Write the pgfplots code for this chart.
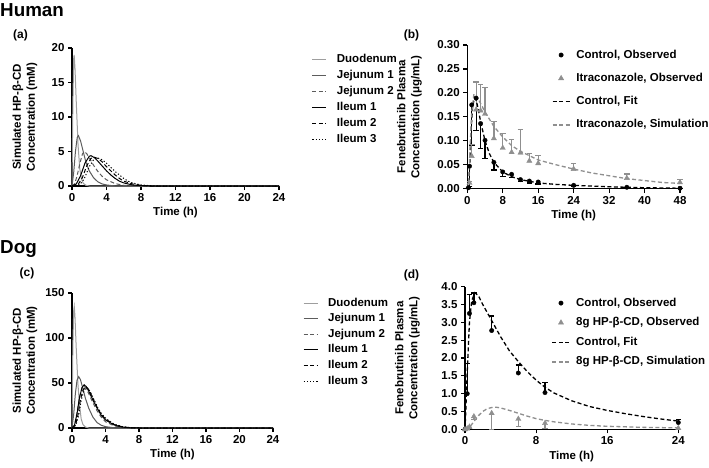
\documentclass[border=0pt]{standalone}
\usepackage{fontspec}
\setmainfont{Liberation Sans}
\usepackage{pgfplots}
\pgfplotsset{compat=1.18}

\definecolor{lg}{gray}{0.62}
\definecolor{dg}{gray}{0.36}
\definecolor{mg}{gray}{0.56}

\newcommand{\fs}{\fontsize{11.5}{14}\selectfont\bfseries}

\pgfplotsset{
  pk/.style={
    scale only axis,
    axis x line*=bottom, axis y line*=left,
    axis line style={line width=1.1pt},
    tick style={line width=1.1pt, black},
    tick align=outside,
    major tick length=4pt,
    minor tick num=0,
    font=\fs,
    tick label style={font=\fs},
    label style={font=\fs, align=center},
    /pgf/number format/assume math mode=true,
    clip=false,
    legend cell align=left,
    legend style={draw=none, fill=none, inner sep=0pt, font=\fs,
      nodes={inner sep=0pt, text height=8.5pt, text depth=2.5pt},
      /tikz/every odd column/.append style={column sep=10pt}},
  },
  dsh/.style={dash pattern=on 4pt off 2.5pt},
  dtt/.style={dash pattern=on 1.2pt off 2pt},
}

\begin{document}
\begin{tikzpicture}
\path[use as bounding box] (0pt,0pt) rectangle (709pt,467pt);

\node[anchor=base west, font=\fontsize{18.8}{20}\selectfont\bfseries, inner sep=0pt] at (0pt,450.3pt) {Human};
\node[anchor=base west, font=\fontsize{18.8}{20}\selectfont\bfseries, inner sep=0pt] at (0pt,214pt) {Dog};
\node[font=\fontsize{12}{14}\selectfont\bfseries] at (20.5pt,432pt) {(a)};
\node[font=\fontsize{12}{14}\selectfont\bfseries] at (411.5pt,432pt) {(b)};
\node[font=\fontsize{12}{14}\selectfont\bfseries] at (27pt,194pt) {(c)};
\node[font=\fontsize{12}{14}\selectfont\bfseries] at (411.5pt,192pt) {(d)};

% ---------------- (a) ----------------
\begin{axis}[pk, at={(72pt,281pt)}, anchor=south west, width=207pt, height=138pt,
  xmin=0, xmax=24, ymin=0, ymax=20,
  xtick={0,4,8,12,16,20,24}, ytick={0,5,10,15,20},
  xlabel={Time (h)}, ylabel={Simulated HP-β-CD\\Concentration (mM)},
  xlabel style={at={(axis description cs:0.5,-0.19)}, anchor=center},
  ylabel style={at={(axis description cs:-0.227,0.5)}, anchor=center},
  legend style={at={(axis description cs:1.158,0.955)}, anchor=north west,
    /tikz/every even row/.append style={row sep=5pt},
    /tikz/every odd row/.append style={row sep=5pt}},
  legend image code/.code={\draw[#1] (0pt,0pt) -- (14pt,0pt);},
]
\addplot[lg, line width=1pt] coordinates {(0,0)(0.1,12)(0.2,18.5)(0.25,19)(0.35,17)(0.5,12)(0.7,6)(0.9,2.5)(1.1,1)(1.3,0.4)(1.6,0.1)(2,0)(24,0)};
\addlegendentry{Duodenum}
\addplot[dg, line width=1pt] coordinates {(0,0)(0.2,2)(0.4,5)(0.6,7)(0.75,7.3)(1,6.5)(1.3,5)(1.6,3.5)(2,2.2)(2.5,1.2)(3,0.6)(3.5,0.3)(4,0.15)(5,0)(24,0)};
\addlegendentry{Jejunum 1}
\addplot[dg, line width=1pt, dsh] coordinates {(0,0)(0.3,0.3)(0.6,1.5)(0.9,3.2)(1.2,4.6)(1.4,5)(1.7,4.7)(2,4.1)(2.5,3)(3,2.1)(3.5,1.4)(4,0.9)(5,0.35)(6,0.1)(7,0)(24,0)};
\addlegendentry{Jejunum 2}
\addplot[black, line width=1pt] coordinates {(0,0)(0.5,0.3)(1,1.5)(1.5,3.3)(2,4.3)(2.2,4.4)(2.6,4.1)(3,3.6)(3.5,2.9)(4,2.2)(4.5,1.6)(5,1.1)(5.5,0.7)(6,0.45)(7,0.15)(8,0.05)(9,0)(24,0)};
\addlegendentry{Ileum 1}
\addplot[black, line width=1pt, dsh] coordinates {(0,0)(0.7,0.2)(1.2,1.2)(1.7,2.9)(2.2,4)(2.5,4.2)(3,4)(3.5,3.5)(4,2.8)(4.5,2.2)(5,1.6)(5.5,1.1)(6,0.7)(7,0.3)(8,0.1)(9,0)(24,0)};
\addlegendentry{Ileum 2}
\addplot[black, line width=1pt, dtt] coordinates {(0,0)(0.9,0.2)(1.4,1)(2,2.8)(2.5,3.8)(2.9,4.1)(3.5,3.8)(4,3.3)(4.5,2.7)(5,2.1)(5.5,1.6)(6,1.1)(6.5,0.7)(7,0.45)(8,0.15)(9,0.05)(10,0)(24,0)};
\addlegendentry{Ileum 3}
\end{axis}

% ---------------- (b) ----------------
\begin{axis}[pk, at={(467.3pt,278.3pt)}, anchor=south west, width=212.7pt, height=143.7pt,
  xmin=0, xmax=48, ymin=0, ymax=0.30,
  xtick={0,8,16,24,32,40,48}, ytick={0,0.05,0.10,0.15,0.20,0.25,0.30},
  yticklabel style={/pgf/number format/.cd, fixed, fixed zerofill, precision=2},
  xlabel={Time (h)}, ylabel={Fenebrutinib Plasma\\Concentration (μg/mL)},
  xlabel style={at={(axis description cs:0.5,-0.185)}, anchor=center},
  ylabel style={at={(axis description cs:-0.272,0.5)}, anchor=center},
  legend style={at={(axis description cs:0.397,0.97)}, anchor=north west,
    /tikz/every even row/.append style={row sep=12.3pt},
    /tikz/every odd row/.append style={row sep=12.3pt},
    /tikz/every odd column/.append style={column sep=6pt}},
]
\addplot[black, only marks, mark=*, mark size=2.2pt,
  error bars/.cd, y dir=minus, y explicit, error bar style={line width=1.3pt, black}, error mark options={line width=1.3pt, mark size=2.8pt, rotate=90}]
  table[y error=e] {
t y e
0.25 0.002 0
0.5 0.047 0.043
1 0.175 0.084
2 0.189 0.067
3 0.136 0.052
4 0.101 0.038
6 0.055 0.016
8 0.035 0.009
10 0.030 0.006
12 0.019 0.004
14 0.016 0.004
16 0.014 0.004
24 0.007 0.002
36 0.003 0.001
48 0.001 0.0005
};
\addlegendentry{Control, Observed}
\addplot[mg, only marks, mark=triangle*, mark size=3pt,
  error bars/.cd, y dir=plus, y explicit, error bar style={line width=1.3pt, mg}, error mark options={line width=1.3pt, mark size=2.8pt, rotate=90, mg}]
  table[y error=e] {
t y e
0.5 0.012 0.003
1 0.068 0.024
2 0.165 0.058
3 0.163 0.055
4 0.156 0.056
6 0.105 0.035
8 0.085 0.030
10 0.076 0.026
12 0.075 0.049
14 0.058 0.015
16 0.053 0.017
24 0.041 0.011
36 0.022 0.009
48 0.013 0.006
};
\addlegendentry{Itraconazole, Observed}
\addplot[black, line width=1.3pt, dsh] coordinates {(0,0)(0.3,0.005)(0.6,0.06)(0.9,0.13)(1.2,0.17)(1.6,0.19)(2,0.185)(2.5,0.165)(3,0.14)(4,0.10)(5,0.073)(6,0.055)(8,0.035)(10,0.025)(12,0.019)(16,0.012)(20,0.009)(24,0.007)(32,0.004)(40,0.002)(48,0.001)};
\addlegendentry{Control, Fit}
\addplot[mg, line width=1.3pt, dsh] coordinates {(0,0)(0.3,0.01)(0.6,0.08)(1,0.16)(1.5,0.198)(2,0.195)(3,0.178)(4,0.16)(6,0.13)(8,0.108)(10,0.09)(12,0.078)(16,0.06)(20,0.05)(24,0.041)(28,0.033)(32,0.027)(36,0.021)(40,0.017)(44,0.013)(48,0.011)};
\addlegendentry{Itraconazole, Simulation}
\end{axis}

% ---------------- (c) ----------------
\begin{axis}[pk, at={(72pt,39pt)}, anchor=south west, width=201pt, height=135pt,
  xmin=0, xmax=24, ymin=0, ymax=150,
  xtick={0,4,8,12,16,20,24}, ytick={0,50,100,150},
  xlabel={Time (h)}, ylabel={Simulated HP-β-CD\\Concentration (mM)},
  xlabel style={at={(axis description cs:0.5,-0.195)}, anchor=center},
  ylabel style={at={(axis description cs:-0.234,0.5)}, anchor=center},
  legend style={at={(axis description cs:1.149,0.968)}, anchor=north west,
    /tikz/every even row/.append style={row sep=4.6pt},
    /tikz/every odd row/.append style={row sep=4.6pt}},
  legend image code/.code={\draw[#1] (0pt,0pt) -- (14pt,0pt);},
]
\addplot[lg, line width=1pt] coordinates {(0,0)(0.1,90)(0.2,130)(0.27,135)(0.35,125)(0.5,90)(0.7,50)(0.9,25)(1.1,10)(1.3,4)(1.6,1)(2,0)(24,0)};
\addlegendentry{Duodenum}
\addplot[dg, line width=1pt] coordinates {(0,0)(0.2,15)(0.4,38)(0.6,53)(0.8,57)(1,54)(1.3,44)(1.6,33)(2,22)(2.5,12)(3,6)(3.5,3)(4,1.5)(5,0.3)(6,0)(24,0)};
\addlegendentry{Jejunum 1}
\addplot[dg, line width=1pt, dsh] coordinates {(0,0)(0.3,3)(0.6,17)(0.9,35)(1.2,45)(1.4,47)(1.7,44)(2,38)(2.5,28)(3,19)(3.5,12)(4,7)(5,2.5)(6,0.7)(7,0)(24,0)};
\addlegendentry{Jejunum 2}
\addplot[black, line width=1pt] coordinates {(0,0)(0.3,3)(0.6,16)(0.9,34)(1.2,45)(1.45,48)(1.7,46)(2,41)(2.5,31)(3,22)(3.5,14)(4,9)(5,3.5)(6,1)(7,0.2)(8,0)(24,0)};
\addlegendentry{Ileum 1}
\addplot[black, line width=1pt, dsh] coordinates {(0,0)(0.4,3)(0.7,14)(1,31)(1.3,42)(1.6,46)(1.9,44)(2.2,39)(2.6,31)(3,23)(3.5,15)(4,10)(5,4)(6,1.3)(7,0.3)(8,0)(24,0)};
\addlegendentry{Ileum 2}
\addplot[black, line width=1pt, dtt] coordinates {(0,0)(0.45,3)(0.8,14)(1.1,31)(1.4,41)(1.7,45)(2,43)(2.3,38)(2.7,30)(3.1,22)(3.6,15)(4.1,10)(5,4.5)(6,1.5)(7,0.4)(8,0)(24,0)};
\addlegendentry{Ileum 3}
\end{axis}

% ---------------- (d) ----------------
\begin{axis}[pk, at={(465pt,37.7pt)}, anchor=south west, width=213.3pt, height=142.6pt,
  xmin=0, xmax=24, ymin=0, ymax=4,
  xtick={0,8,16,24}, ytick={0,0.5,1,1.5,2,2.5,3,3.5,4},
  yticklabel style={/pgf/number format/.cd, fixed, fixed zerofill, precision=1},
  xlabel={Time (h)}, ylabel={Fenebrutinib Plasma\\Concentration (μg/mL)},
  xlabel style={at={(axis description cs:0.5,-0.194)}, anchor=center},
  ylabel style={at={(axis description cs:-0.27,0.5)}, anchor=center},
  legend style={at={(axis description cs:0.406,0.925)}, anchor=north west,
    /tikz/every even row/.append style={row sep=8.6pt},
    /tikz/every odd row/.append style={row sep=8.6pt},
    /tikz/every odd column/.append style={column sep=6pt}},
]
\addplot[black, only marks, mark=*, mark size=2.2pt,
  error bars/.cd, y dir=plus, y explicit, error bar style={line width=1.3pt, black}, error mark options={line width=1.3pt, mark size=2.8pt, rotate=90}]
  table[y error=e] {
t y e
0 0 0
0.25 1.0 0.85
0.5 3.25 0.53
1 3.55 0.27
3 2.77 0.41
6 1.58 0.22
9 1.03 0.28
24 0.19 0.08
};
\addlegendentry{Control, Observed}
\addplot[mg, only marks, mark=triangle*, mark size=3pt,
  error bars/.cd, y dir=minus, y explicit, error bar style={line width=1.3pt, mg}, error mark options={line width=1.3pt, mark size=2.8pt, rotate=90, mg}]
  table[y error=e] {
t y e
0 0 0
0.25 0.02 0.01
0.5 0.07 0.04
1 0.36 0.09
3 0.45 0.45
6 0.29 0.22
9 0.17 0.14
24 0.03 0.03
};
\addlegendentry{8g HP-β-CD, Observed}
\addplot[black, line width=1.3pt, dsh] coordinates {(0,0)(0.1,0.6)(0.25,1.6)(0.5,3.0)(0.75,3.6)(1.1,3.83)(1.5,3.75)(2,3.5)(3,3.05)(4,2.6)(5,2.2)(6,1.9)(7,1.62)(8,1.38)(9,1.18)(10,1.02)(12,0.8)(14,0.64)(16,0.53)(18,0.44)(20,0.36)(22,0.29)(24,0.23)};
\addlegendentry{Control, Fit}
\addplot[mg, line width=1.3pt, dsh] coordinates {(0,0)(0.5,0.05)(1,0.22)(1.5,0.38)(2,0.5)(2.5,0.58)(3,0.61)(3.5,0.62)(4,0.6)(5,0.53)(6,0.45)(7,0.37)(8,0.3)(9,0.25)(10,0.21)(12,0.15)(14,0.11)(16,0.085)(20,0.055)(24,0.04)};
\addlegendentry{8g HP-β-CD, Simulation}
\end{axis}
\end{tikzpicture}
\end{document}
